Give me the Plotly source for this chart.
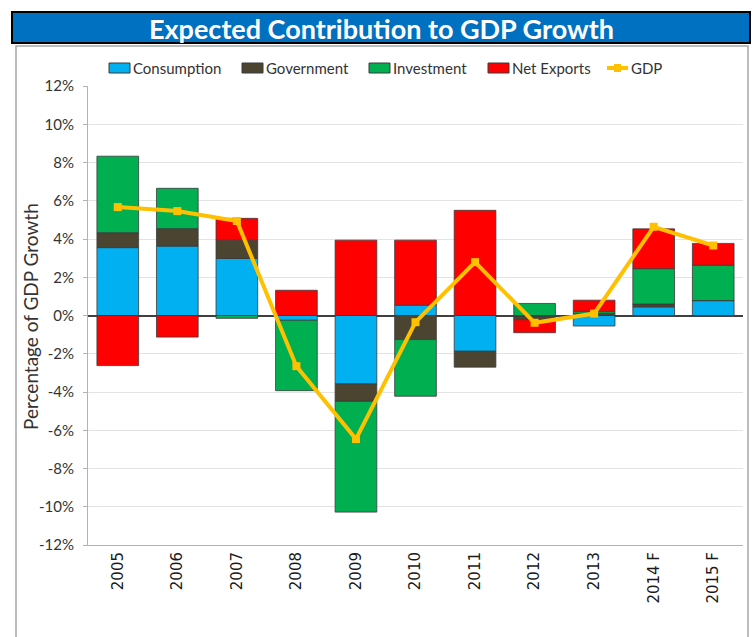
import plotly.graph_objects as go

years = ["2005", "2006", "2007", "2008", "2009", "2010", "2011", "2012", "2013", "2014 F", "2015 F"]
consumption = [3.55, 3.63, 2.98, -0.25, -3.58, 0.54, -1.87, -0.05, -0.55, 0.45, 0.78]
government = [0.78, 0.91, 0.96, 0.0, -0.91, -1.26, -0.83, -0.17, 0.12, 0.15, 0.0]
investment = [4.0, 2.11, -0.15, -3.68, -5.79, -2.96, 0.0, 0.63, 0.1, 1.85, 1.85]
net_exports = [-2.62, -1.13, 1.14, 1.32, 3.94, 3.4, 5.5, -0.68, 0.58, 2.08, 1.14]
gdp = [5.67, 5.46, 4.94, -2.65, -6.46, -0.35, 2.79, -0.38, 0.1, 4.64, 3.66]
y_ticks = list(range(-12, 13, 2))

W, H = 755, 637
L, R, T, B = 88, 743, 86, 545

def px2x(px):
    return (px - L) / (R - L)

def px2y(py):
    return (B - py) / (B - T)

FONT = "Lato"
TXT = "#333333"
outline = dict(color="#3a3a3a", width=0.8)

series = [
    ("Consumption", consumption, "#00B0F0"),
    ("Government", government, "#4A4430"),
    ("Investment", investment, "#00B050"),
    ("Net Exports", net_exports, "#FF0000"),
]

fig = go.Figure()
for name, vals, col in series:
    fig.add_trace(go.Bar(x=years, y=vals, name=name, showlegend=False,
                         marker=dict(color=col, line=outline)))

GDP_COL = "#FFC000"
fig.add_trace(go.Scatter(
    x=years, y=gdp, name="GDP", mode="lines+markers", showlegend=False,
    line=dict(color=GDP_COL, width=4),
    marker=dict(symbol="square", size=8, color=GDP_COL),
))

shapes = [
    dict(type="rect", xref="paper", yref="paper",
         x0=px2x(16), x1=px2x(748), y0=px2y(645), y1=px2y(46),
         line=dict(color="#a6a6a6", width=1.5), fillcolor="rgba(0,0,0,0)", layer="below"),
    dict(type="rect", xref="paper", yref="paper",
         x0=px2x(12), x1=px2x(750), y0=px2y(43), y1=px2y(12),
         line=dict(color="#000000", width=2), fillcolor="#0070C0", layer="above"),
]
annotations = [
    dict(text="<b>Expected Contribution to GDP Growth</b>", xref="paper", yref="paper",
         x=px2x(381), y=px2y(28), xanchor="center", yanchor="middle", showarrow=False,
         font=dict(family=FONT, size=27, color="white")),
    dict(text="Percentage of GDP Growth", xref="paper", yref="paper",
         x=px2x(30), y=px2y(317), xanchor="center", yanchor="middle", showarrow=False,
         textangle=-90, font=dict(family=FONT, size=19, color=TXT)),
]

# custom legend (swatch immediately followed by label, as in the reference)
legend_x = [109, 242, 369, 488, 607]
legend_y = 68
for (name, _, col), lx in zip(series, legend_x[:4]):
    shapes.append(dict(type="rect", xref="paper", yref="paper",
                       x0=px2x(lx), x1=px2x(lx + 21), y0=px2y(legend_y + 5), y1=px2y(legend_y - 5),
                       line=dict(color="#3a3a3a", width=1), fillcolor=col, layer="above"))
    annotations.append(dict(text=name, xref="paper", yref="paper",
                            x=px2x(lx + 22), y=px2y(legend_y), xanchor="left", yanchor="middle",
                            showarrow=False, font=dict(family=FONT, size=15, color=TXT)))
gx = legend_x[4]
shapes.append(dict(type="line", xref="paper", yref="paper",
                   x0=px2x(gx), x1=px2x(gx + 21), y0=px2y(legend_y), y1=px2y(legend_y),
                   line=dict(color=GDP_COL, width=4), layer="above"))
shapes.append(dict(type="rect", xref="paper", yref="paper",
                   x0=px2x(gx + 7), x1=px2x(gx + 14), y0=px2y(legend_y + 4), y1=px2y(legend_y - 4),
                   line=dict(color=GDP_COL, width=0), fillcolor=GDP_COL, layer="above"))
annotations.append(dict(text="GDP", xref="paper", yref="paper",
                        x=px2x(gx + 22), y=px2y(legend_y), xanchor="left", yanchor="middle",
                        showarrow=False, font=dict(family=FONT, size=15, color=TXT)))

fig.update_layout(
    width=W, height=H,
    margin=dict(l=L, r=W - R, t=T, b=H - B),
    paper_bgcolor="white", plot_bgcolor="white",
    barmode="relative", bargap=0.3,
    font=dict(family=FONT, size=15, color=TXT),
    shapes=shapes, annotations=annotations,
    showlegend=False,
    xaxis=dict(
        type="category", range=[-0.5, len(years) - 0.5], tickangle=-90, showgrid=False,
        automargin=False,
        showline=True, linecolor="#a8b4c4", linewidth=1,
        tickfont=dict(family="DejaVu Sans", size=15, color="#1a1a1a"),
        ticks="", fixedrange=True,
    ),
    yaxis=dict(
        range=[-12, 12], tickvals=y_ticks, ticktext=[f"{v}%" for v in y_ticks],
        automargin=False,
        showgrid=True, gridcolor="#e3e3e3", gridwidth=1,
        zeroline=True, zerolinecolor="#404040", zerolinewidth=1.5,
        showline=True, linecolor="#a8b4c4", linewidth=1,
        ticks="outside", ticklen=4, tickcolor="#a8b4c4", ticklabelstandoff=6,
        tickfont=dict(family=FONT, size=15, color=TXT),
        fixedrange=True,
    ),
)

fig.write_html("out.html", config={"displayModeBar": False},
               post_script="document.body.style.margin='0';")
